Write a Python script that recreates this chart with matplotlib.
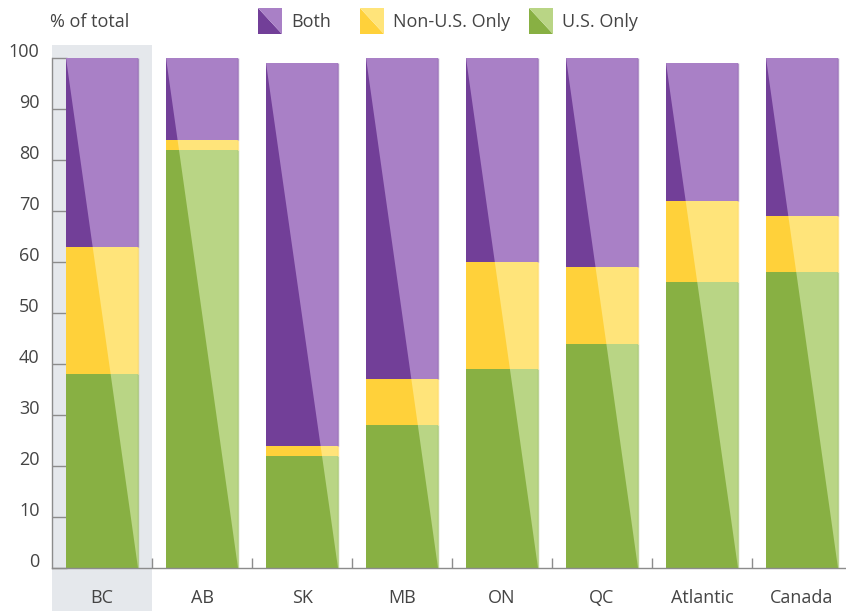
import matplotlib
matplotlib.use("Agg")
import matplotlib.pyplot as plt
from matplotlib.patches import Polygon
from matplotlib.transforms import ScaledTranslation

plt.rcParams['font.family'] = ['Open Sans', 'DejaVu Sans']

regions = ["BC", "AB", "SK", "MB", "ON", "QC", "Atlantic", "Canada"]
us_only = [38, 82, 22, 28, 39, 44, 56, 58]
non_us_only = [25, 2, 2, 9, 21, 15, 16, 11]
both = [37, 16, 75, 63, 40, 41, 27, 31]
y_ticks = [0, 10, 20, 30, 40, 50, 60, 70, 80, 90, 100]

series = [
    ("U.S. Only", us_only, "#88B043", "#B9D585"),
    ("Non-U.S. Only", non_us_only, "#FFD13A", "#FFE47A"),
    ("Both", both, "#723F98", "#A980C6"),
]
legend_order = ["Both", "Non-U.S. Only", "U.S. Only"]

text_color = "#444444"
axis_color = "#8C8C8C"
band_color = "#E5E8EC"

W, H = 846, 611
fig = plt.figure(figsize=(W / 100, H / 100), dpi=100)
ax = fig.add_axes([52 / W, (H - 568) / H, (W - 52) / W, (568 - 45) / H])

bar_w = 0.72
x = list(range(len(regions)))
ax.set_xlim(-0.5, 7.44)
ax.set_ylim(0, 102.55)

# highlighted first category, running down through the label area
ax.axvspan(-0.5, 0.5, ymin=-0.09, ymax=1, color=band_color, zorder=0, clip_on=False, lw=0)

totals = [sum(v) for v in zip(us_only, non_us_only, both)]
bottoms = [0] * len(regions)
for name, vals, dark, light in series:
    ax.bar(x, vals, bar_w, bottom=bottoms, color=dark, zorder=2, lw=0)
    light_bars = ax.bar(x, vals, bar_w, bottom=bottoms, color=light, zorder=3, lw=0)
    for i, b in enumerate(light_bars):
        x0, x1 = i - bar_w / 2, i + bar_w / 2
        tri = Polygon([(x0, totals[i]), (x1, totals[i]), (x1, 0)], closed=True,
                      transform=ax.transData)
        b.set_clip_path(tri)
    # thin darker edge on the right side of each segment
    for i, v in enumerate(vals):
        xr = i + bar_w / 2 - 0.003
        ax.plot([xr, xr], [bottoms[i], bottoms[i] + v], color=dark, alpha=0.55,
                lw=1.0, zorder=4, solid_capstyle="butt")
    bottoms = [b0 + v for b0, v in zip(bottoms, vals)]

for s in ["top", "right"]:
    ax.spines[s].set_visible(False)
for s in ["left", "bottom"]:
    ax.spines[s].set_color(axis_color)
    ax.spines[s].set_linewidth(1.0)
ax.spines["left"].set_bounds(0, 100)

ax.set_yticks(y_ticks)
ax.set_yticklabels([str(t) for t in y_ticks])
ax.tick_params(axis="y", direction="in", length=10.5, width=1.0, color=axis_color,
               labelsize=13, labelcolor=text_color, pad=9)
# y labels sit slightly above their tick lines
shift = ScaledTranslation(0, 8 / 100, fig.dpi_scale_trans)
for lbl in ax.get_yticklabels():
    lbl.set_transform(lbl.get_transform() + shift)

ax.set_xticks(x)
ax.set_xticklabels(regions)
ax.tick_params(axis="x", which="major", length=0, labelsize=13, labelcolor=text_color, pad=15)
ax.set_xticks([i + 0.5 for i in range(len(regions) - 1)], minor=True)
ax.tick_params(axis="x", which="minor", direction="in", length=7.5, width=1.0, color=axis_color)

# overlay in pixel coordinates for the title and legend
ov = fig.add_axes([0, 0, 1, 1])
ov.set_xlim(0, W)
ov.set_ylim(H, 0)
ov.axis("off")
ov.text(50, 22, "% of total", fontsize=13, color=text_color, va="center", ha="left")

swatch_x = [258, 360, 529]
colors = {name: (dark, light) for name, _, dark, light in series}
for sx, name in zip(swatch_x, legend_order):
    dark, light = colors[name]
    y0, y1 = 8, 34
    ov.add_patch(Polygon([(sx, y0), (sx, y1), (sx + 24, y1)], closed=True, color=dark, lw=0))
    ov.add_patch(Polygon([(sx, y0), (sx + 24, y0), (sx + 24, y1)], closed=True, color=light, lw=0))
    ov.text(sx + 33, 22, name, fontsize=13, color=text_color, va="center", ha="left")

fig.savefig("out.png", dpi=100)
